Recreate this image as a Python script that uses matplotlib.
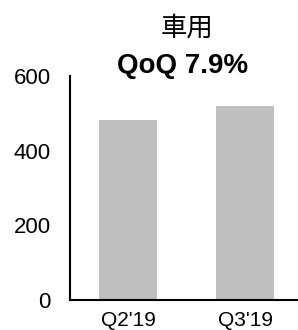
import matplotlib
matplotlib.use("Agg")
import matplotlib.pyplot as plt

# values
quarters = ["Q2'19", "Q3'19"]
revenue = [482, 520]
title_cn = "車用"
title_qoq = "QoQ 7.9%"

plt.rcParams['font.family'] = ['Liberation Sans', 'Noto Sans CJK TC', 'DejaVu Sans']

fig = plt.figure(figsize=(2.98, 3.30), dpi=100)
ax = fig.add_axes([70 / 298, 1 - 300 / 330, 228 / 298, 224 / 330])

x = range(len(quarters))
ax.bar(x, revenue, width=0.5, color='#bfbfbf')

ax.set_xlim(-0.496, 1.453)
ax.set_ylim(0, 600)
ax.set_yticks([0, 200, 400, 600])
ax.set_xticks(list(x))
ax.set_xticklabels(quarters)

ax.spines['top'].set_visible(False)
ax.spines['right'].set_visible(False)
ax.spines['left'].set_linewidth(1.5)
ax.spines['bottom'].set_linewidth(1.5)
ax.tick_params(axis='y', length=0, pad=14, labelsize=16)
ax.tick_params(axis='x', length=0, pad=8, labelsize=15)

fig.text(187 / 298, 1 - 28 / 330, title_cn, ha='center', va='center',
         fontsize=19, family=['Noto Sans CJK TC'], fontweight='light')
fig.text(183 / 298, 1 - 66 / 330, title_qoq, ha='center', va='center',
         fontsize=20, fontweight='bold')

fig.savefig('out.png', dpi=100)
